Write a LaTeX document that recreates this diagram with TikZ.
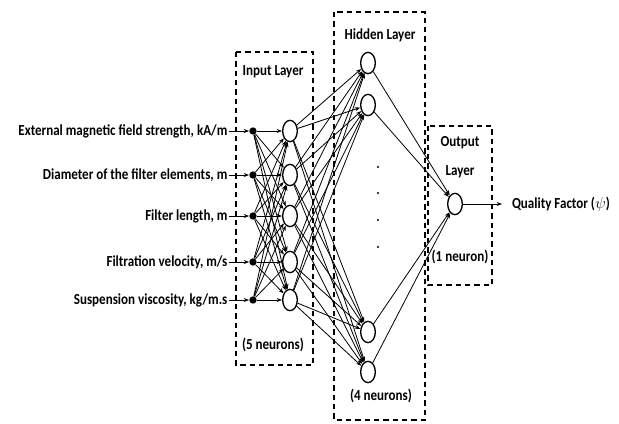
\documentclass[tikz,border=0pt]{standalone}
\usepackage{fontspec}
\setmainfont{Carlito}[FakeStretch=0.85]
\usetikzlibrary{arrows.meta,shapes.geometric}

\begin{document}
\begin{tikzpicture}[x=0.75pt,y=-0.75pt,font=\bfseries\fontsize{11.5}{13}\selectfont,
  neur/.style={ellipse,draw,line width=1pt,minimum width=11pt,minimum height=16pt,inner sep=0pt},
  dotn/.style={circle,fill,minimum size=5.5pt,inner sep=0pt},
  lay/.style={draw,line width=1pt,dash pattern=on 4pt off 3pt},
  llbl/.style={align=center},
  inl/.style={anchor=east,inner sep=1pt},
  w/.style={-{Stealth[length=4pt,width=3pt]},line width=0.6pt}]
\useasboundingbox (0,0) rectangle (619,424);

% layer frames
\draw[lay] (236,52) rectangle (313,365);
\draw[lay] (334,12) rectangle (425,420);
\draw[lay] (428,126) rectangle (492,285);
\node[llbl](tin) at (273,72){Input Layer};
\node[llbl](tin2) at (273,345){(5 neurons)};
\node[llbl](thid) at (380,35){Hidden Layer};
\node[llbl](thid2) at (381,396){(4 neurons)};
\node[llbl](tout) at (460,157){Output\\[9pt]Layer};
\node[llbl](tout2) at (460,257){(1 neuron)};

% input variables
\node[inl](v1) at (229,131){External magnetic field strength, kA/m};
\node[inl](v2) at (229,175){Diameter of the filter elements, m};
\node[inl](v3) at (229,216){Filter length, m};
\node[inl](v4) at (229,262){Filtration velocity, m/s};
\node[inl](v5) at (229,300){Suspension viscosity, kg/m.s};
\foreach \i/\y in {1/131,2/175,3/216,4/262,5/300}{
  \node[dotn](d\i) at (253,\y){};
  \node[neur](n\i) at (290,\y){};
  \draw[w](v\i.east)--(d\i.west);}

% hidden and output neurons
\node[neur](h1) at (368,63){};
\node[neur](h2) at (368,105){};
\node[neur](h3) at (368,332){};
\node[neur](h4) at (368,372){};
\node[neur](o1) at (455,204){};
\foreach \y in {167,193,220,247}
  \fill (378,\y) circle (0.9pt);

% weights
\foreach \i in {1,...,5}{\foreach \j in {1,...,5}{\draw[w](d\i)--(n\j);}}
\foreach \i in {1,...,5}{\foreach \j in {1,...,4}{\draw[w](n\i)--(h\j);}}
\foreach \j in {1,...,4}{\draw[w](h\j)--(o1);}

\coordinate (qf) at (502,204);
\draw[w](o1)--(qf);
\node[anchor=west](tq) at ([xshift=4]qf){Quality Factor ($\psi$)};
\end{tikzpicture}
\end{document}
